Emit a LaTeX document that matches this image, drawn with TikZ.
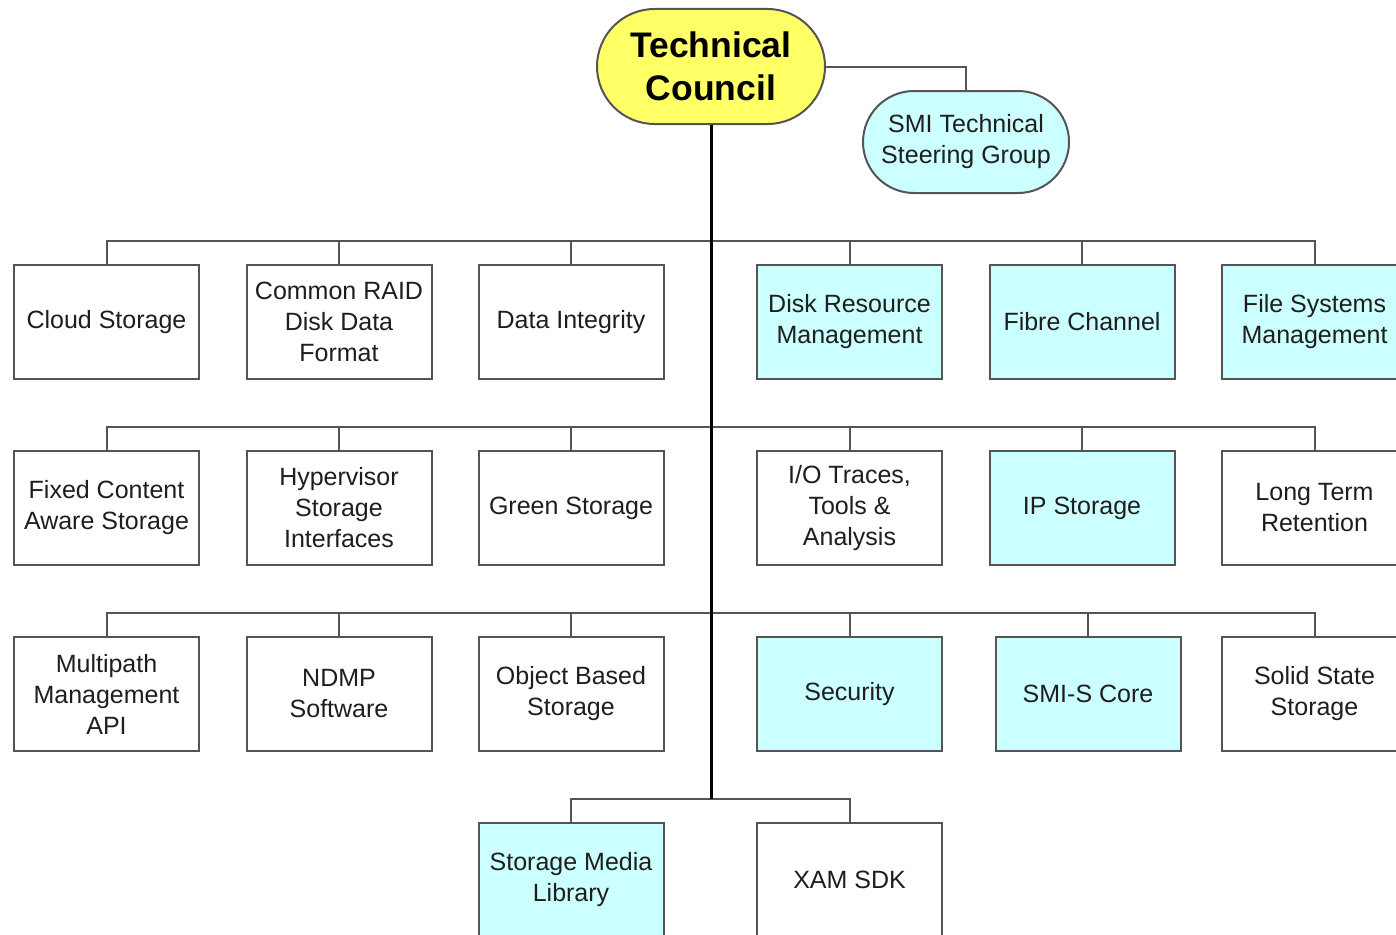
\documentclass[tikz,border=0pt]{standalone}
\usepackage{fontspec}
\setmainfont{Liberation Sans}
\usetikzlibrary{shapes.misc}
\definecolor{boxcyan}{HTML}{CCFFFF}
\definecolor{tcyellow}{HTML}{FFFF66}
\definecolor{edgegray}{HTML}{555555}
\definecolor{txt}{HTML}{1E1E1E}
\tikzset{
  wg/.style={draw=edgegray, line width=2pt, fill=white, minimum width=185pt, minimum height=114pt,
    inner sep=0pt, align=center, text=txt, font=\fontsize{25}{31}\selectfont},
  cy/.style={wg, fill=boxcyan},
  council/.style={rounded rectangle, draw=edgegray, line width=2pt, fill=tcyellow, minimum width=228pt,
    minimum height=115pt, inner sep=0pt, align=center, font=\bfseries\fontsize{35.5}{43}\selectfont, text=black},
  smi/.style={rounded rectangle, draw=edgegray, line width=2pt, fill=boxcyan, minimum width=206pt,
    minimum height=102pt, inner sep=0pt, align=center, font=\fontsize{25}{31}\selectfont, text=txt},
  link/.style={draw=edgegray, line width=2pt},
  trunk/.style={draw=black, line width=3pt}
}
\begin{document}
\begin{tikzpicture}[x=1pt,y=-1pt]
\useasboundingbox (0,0) rectangle (1396,934);
\clip (0,0) rectangle (1396,934);
\fill[white] (0,0) rectangle (1396,934);

% bus levels
\coordinate (busA) at (0,241);
\coordinate (busB) at (0,427);
\coordinate (busC) at (0,613);
\coordinate (busD) at (0,799);

% top
\node[council] (tc) at (711,66.5) {Technical\\Council};
\node[smi] (smi) at (966,142) {SMI Technical\\Steering Group};

% row 1
\node[wg] (a1) at (106.5,322) {Cloud Storage};
\node[wg] (a2) at (339,322) {Common RAID\\Disk Data\\Format};
\node[wg] (a3) at (571,322) {Data Integrity};
\node[cy] (a4) at (849.5,322) {Disk Resource\\Management};
\node[cy] (a5) at (1082,322) {Fibre Channel};
\node[cy] (a6) at (1314.5,322) {File Systems\\Management};
% row 2
\node[wg] (b1) at (106.5,508) {Fixed Content\\Aware Storage};
\node[wg] (b2) at (339,508) {Hypervisor\\Storage\\Interfaces};
\node[wg] (b3) at (571,508) {Green Storage};
\node[wg] (b4) at (849.5,508) {I/O Traces,\\Tools \&\\Analysis};
\node[cy] (b5) at (1082,508) {IP Storage};
\node[wg] (b6) at (1314.5,508) {Long Term\\Retention};
% row 3
\node[wg] (c1) at (106.5,694) {Multipath\\Management\\API};
\node[wg] (c2) at (339,694) {NDMP\\Software};
\node[wg] (c3) at (571,694) {Object Based\\Storage};
\node[cy] (c4) at (849.5,694) {Security};
\node[cy] (c5) at (1088,694) {SMI-S Core};
\node[wg] (c6) at (1314.5,694) {Solid State\\Storage};
% row 4
\node[cy] (d1) at (571,880) {Storage Media\\Library};
\node[wg] (d2) at (849.5,880) {XAM SDK};

% connectors
\path[link] (tc.east) -| (smi.north);
\foreach \r/\bus in {a/busA,b/busB,c/busC}{
  \path[link] (\r1.north) -- (\r1.north |- \bus) -- (\r6.north |- \bus) -- (\r6.north);
  \foreach \i in {2,3,4,5}{
    \path[link] (\r\i.north) -- (\r\i.north |- \bus);
  }
}
\path[link] (d1.north) -- (d1.north |- busD) -- (d2.north |- busD) -- (d2.north);
\coordinate (trunkend) at (tc.south |- busD);
\path[trunk] (tc.south) -- (trunkend);
\end{tikzpicture}
\end{document}
